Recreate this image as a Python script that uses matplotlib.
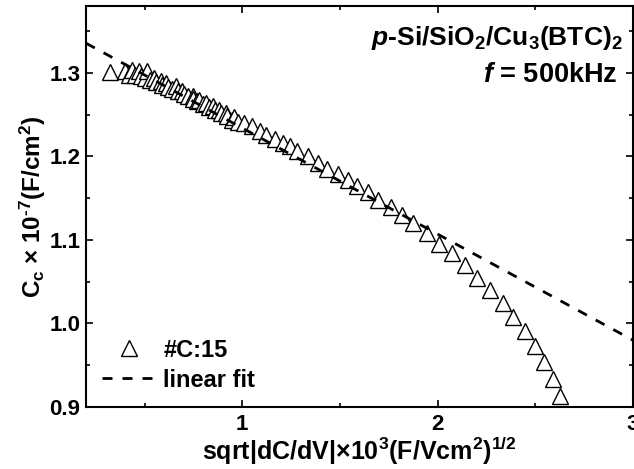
import matplotlib
matplotlib.use("Agg")
import matplotlib.pyplot as plt
from matplotlib.lines import Line2D
from matplotlib.ticker import MultipleLocator

plt.rcParams['font.family'] = ['Liberation Sans', 'DejaVu Sans']
plt.rcParams['font.weight'] = 'bold'
plt.rcParams['axes.labelweight'] = 'bold'
plt.rcParams['mathtext.fontset'] = 'custom'
plt.rcParams['mathtext.rm'] = 'Liberation Sans:bold'
plt.rcParams['mathtext.bf'] = 'Liberation Sans:bold'
plt.rcParams['mathtext.it'] = 'Liberation Sans:bold:italic'
plt.rcParams['mathtext.default'] = 'rm'

# Measured points (#C:15)
sqrt_dcdv = [0.325, 0.402, 0.420, 0.437, 0.450, 0.471, 0.480, 0.500, 0.514, 0.530,
             0.548, 0.560, 0.582, 0.590, 0.608, 0.620, 0.640, 0.660, 0.670, 0.694,
             0.700, 0.720, 0.746, 0.750, 0.770, 0.780, 0.800, 0.814, 0.830, 0.849,
             0.860, 0.883, 0.890, 0.918, 0.920, 0.950, 0.960, 0.980, 1.007, 1.050,
             1.089, 1.119, 1.170, 1.210, 1.244, 1.282, 1.337, 1.388, 1.433, 1.488,
             1.543, 1.588, 1.643, 1.694, 1.763, 1.818, 1.875, 1.946, 2.008, 2.075,
             2.139, 2.201, 2.270, 2.335, 2.385, 2.445, 2.499, 2.547, 2.593, 2.625]
cc_values = [1.301, 1.302, 1.298, 1.303, 1.297, 1.302, 1.296, 1.294, 1.302, 1.291,
             1.294, 1.289, 1.290, 1.286, 1.288, 1.283, 1.281, 1.284, 1.278, 1.278,
             1.275, 1.272, 1.272, 1.269, 1.266, 1.268, 1.263, 1.264, 1.259, 1.260,
             1.255, 1.256, 1.252, 1.252, 1.248, 1.244, 1.247, 1.241, 1.240, 1.236,
             1.231, 1.226, 1.221, 1.216, 1.212, 1.207, 1.201, 1.192, 1.185, 1.179,
             1.172, 1.165, 1.157, 1.148, 1.140, 1.130, 1.120, 1.108, 1.095, 1.084,
             1.070, 1.055, 1.040, 1.025, 1.008, 0.991, 0.973, 0.954, 0.934, 0.913]

# Linear fit parameters
fit_slope = -0.127
fit_intercept = 1.361
fit_x = [0.2, 3.0]

fig = plt.figure(figsize=(6.34, 4.69), dpi=100)
ax = fig.add_axes([0.1356, 0.1322, 0.8628, 0.8548])

ax.plot(sqrt_dcdv, cc_values, linestyle='none', marker='^', markersize=11,
        markerfacecolor='white', markeredgecolor='black', markeredgewidth=1.0)
fit_y = [fit_intercept + fit_slope * x for x in fit_x]
ax.plot(fit_x, fit_y, color='black', linewidth=2.0, dashes=(3.6, 3.6))

ax.set_xlim(0.2, 3.0)
ax.set_ylim(0.9, 1.38)
ax.xaxis.set_minor_locator(MultipleLocator(0.5))
ax.yaxis.set_minor_locator(MultipleLocator(0.05))
ax.tick_params(which='both', direction='in', top=True, right=True, width=1.2,
               labelsize=16)
ax.tick_params(axis='x', pad=5)
ax.tick_params(axis='y', pad=4)
ax.tick_params(which='major', length=5)
ax.tick_params(which='minor', length=3)
ax.set_xticks([1, 2, 3])
ax.set_xticklabels(['1', '2', '3'])
ax.set_yticks([0.9, 1.0, 1.1, 1.2, 1.3])
ax.set_yticklabels(['0.9', '1.0', '1.1', '1.2', '1.3'])
for s in ax.spines.values():
    s.set_linewidth(1.5)

ax.set_xlabel(r'sqrt|dC/dV|×10$^{3}$(F/Vcm$^{2}$)$^{1/2}$', fontsize=18,
              fontweight='bold', labelpad=0)
ax.set_ylabel(r'C$_{c}$ × 10$^{\text{-}7}$(F/cm$^{2}$)', fontsize=17.5,
              fontweight='bold', labelpad=1)

ax.text(0.981, 0.903, r'$\mathit{p}$-Si/SiO$_2$/Cu$_3$(BTC)$_2$', transform=ax.transAxes,
        ha='right', va='baseline', fontsize=19)
ax.text(0.972, 0.810, r'$\mathit{f}$ = 500kHz', transform=ax.transAxes,
        ha='right', va='baseline', fontsize=19.5)

handles = [Line2D([], [], linestyle='none', marker='^', markersize=11,
                  markerfacecolor='white', markeredgecolor='black', markeredgewidth=1.0),
           Line2D([], [], color='black', linewidth=2.0, dashes=(3.6, 3.6))]
ax.legend(handles, ['#C:15', 'linear fit'], loc='lower left', frameon=False,
          fontsize=17, handlelength=2.3, handletextpad=0.3, labelspacing=0.3,
          bbox_to_anchor=(-0.01, -0.015))

fig.savefig('out.png', dpi=100)
